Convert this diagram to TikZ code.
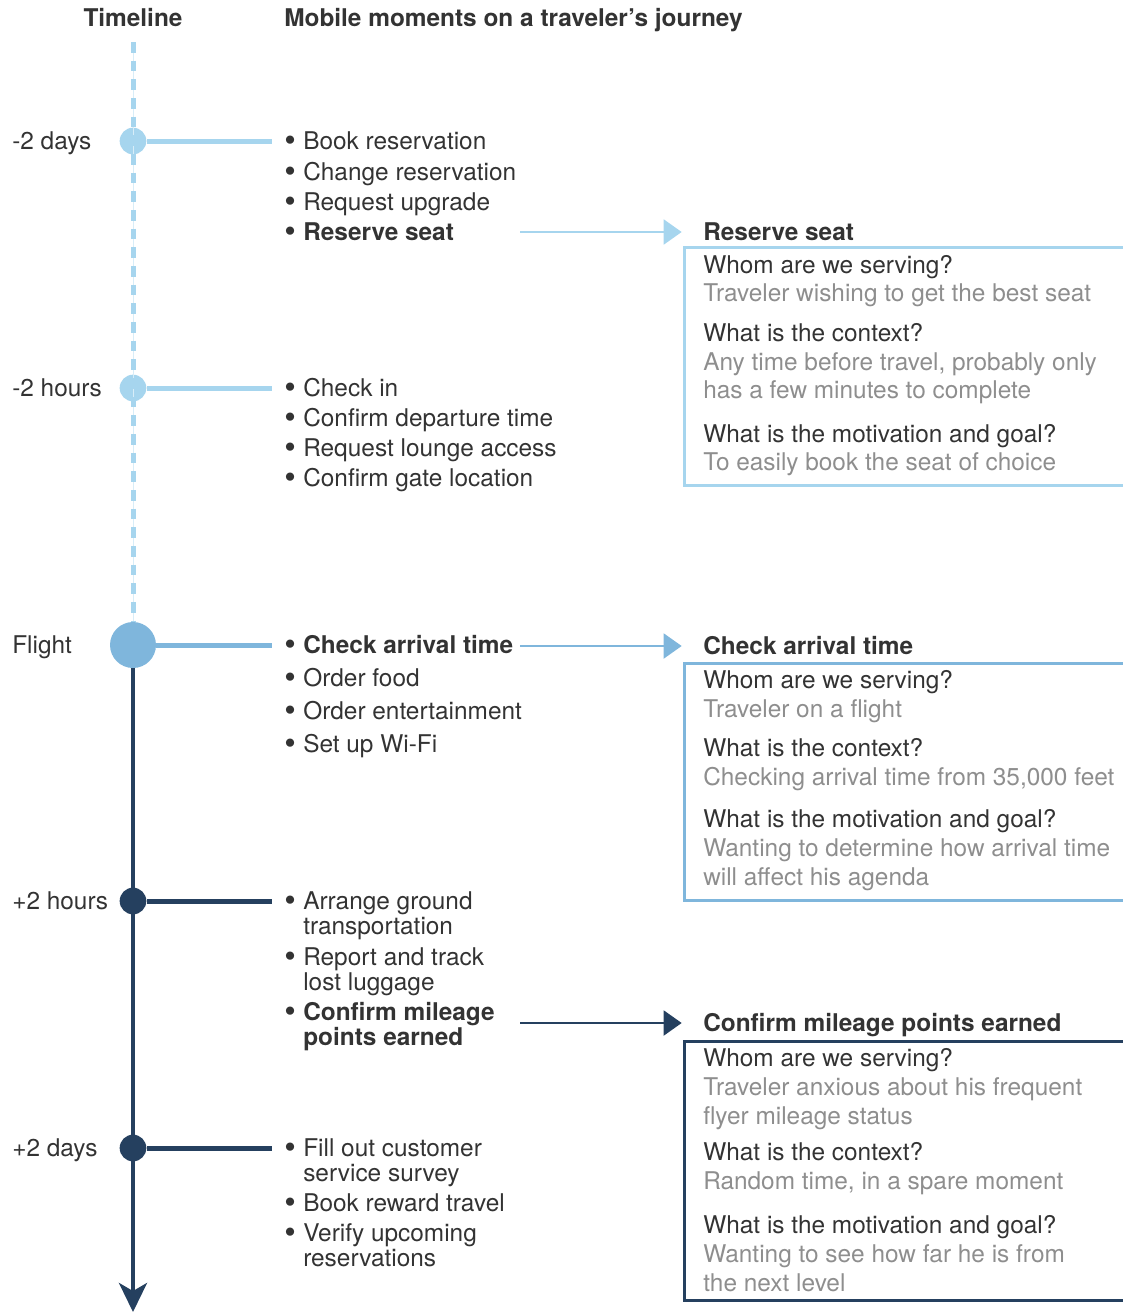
\documentclass[tikz,border=0pt]{standalone}
\usepackage{fontspec}
\setmainfont{TeX Gyre Heros}
\usetikzlibrary{arrows.meta}
\definecolor{skyline}{HTML}{A6D5EE}
\definecolor{skythin}{HTML}{D8EDF8}
\definecolor{flightblue}{HTML}{7FB6DC}
\definecolor{navyline}{HTML}{25405F}
\definecolor{inktext}{HTML}{333333}
\definecolor{softtext}{HTML}{8E8E8E}
\newcommand{\bodyfont}{\fontsize{18.3}{21}\selectfont}
\newcommand{\itembul}{\llap{\raisebox{-2.2pt}{\scalebox{1.35}{\textbullet}}\hspace{5.5pt}}}

\begin{document}
\begin{tikzpicture}
[x=0.75pt,y=-0.75pt,
  txt/.style={anchor=base west,inner sep=0pt,text=inktext,font=\bodyfont},%
  soft/.style={txt,text=softtext},%
  head/.style={txt,font=\bodyfont\bfseries},%
  dot/.style={shape=circle,inner sep=0pt,minimum size=20pt},%
  bigdot/.style={shape=circle,inner sep=0pt,minimum size=34.5pt,fill=flightblue},%
  spoke/.style={-,line width=3.75pt},%
  pointer/.style={-{Triangle[length=13.5pt,width=18.75pt]},line width=1.5pt,shorten >=16pt},%
  frame/.style={line width=2.25pt}]
\useasboundingbox (0,0) rectangle (1122,1314);

%% headings
\node[head,anchor=base] (timeline) at (133,26) {Timeline};
\node[head] (moments) at (284,26) {Mobile moments on a traveler’s journey};

%% timeline dots and labels
\foreach \nodename/\y/\lbl/\col in {daysbefore/141/-2 days/skyline, hoursbefore/388/-2 hours/skyline,
    hoursafter/901/+2 hours/navyline, daysafter/1148/+2 days/navyline} {
  \node (\nodename) at (133,\y) [dot,fill=\col] {};
  \node[txt] (\nodename-lbl) at (12,\y+8) {\lbl};
  \coordinate (\nodename-end) at (272,\y);
}
\node (flight) at (133,645) [bigdot] {};
\node[txt] (flight-lbl) at (12,653) {Flight};
\coordinate (flight-end) at (272,645);
\coordinate (top) at (133,42);
\coordinate (bottom) at (133,1312);

%% timeline axis
\draw[skythin,line width=0.75pt] (top) -- (flight.north);
\draw[skyline,line width=3.75pt,dash pattern=on 8pt off 6pt] (top) -- (flight.north);
\draw[navyline,line width=3pt,-{Stealth[length=21.75pt,width=21pt,inset=6pt]}] (flight.south) -- (bottom);

%% spokes
\path
\foreach \startnode/\col in {daysbefore/skyline, hoursbefore/skyline, flight/flightblue,
    hoursafter/navyline, daysafter/navyline} {
  (\startnode) edge[spoke,draw=\col] (\startnode-end)
};

%% moments
\foreach \nodename/\y/\txt in {
    book/149/{\itembul Book reservation}, change/180/{\itembul Change reservation},
    upgrade/210/{\itembul Request upgrade}, seat/240/{\itembul\bfseries Reserve seat},
    checkin/396/{\itembul Check in}, departure/426/{\itembul Confirm departure time},
    lounge/456/{\itembul Request lounge access}, gate/486/{\itembul Confirm gate location},
    arrival/653/{\itembul\bfseries Check arrival time}, food/686/{\itembul Order food},
    media/719/{\itembul Order entertainment}, wifi/752/{\itembul Set up Wi-Fi},
    ground/909/{\itembul Arrange ground}, ground2/934/transportation,
    luggage/965/{\itembul Report and track}, luggage2/990/lost luggage,
    mileage/1020/{\itembul\bfseries Confirm mileage}, mileage2/1045/{\bfseries points earned},
    survey/1156/{\itembul Fill out customer}, survey2/1181/service survey,
    reward/1211/{\itembul Book reward travel},
    verify/1241/{\itembul Verify upcoming}, verify2/1266/reservations} {
  \node[txt] (\nodename) at (303,\y) {\txt};
}

%% detail boxes
\draw[skyline,frame] (1124,247) -| (684,485) -- (1124,485);
\draw[flightblue,frame] (1124,663) -| (684,900) -- (1124,900);
\draw[navyline,frame] (1124,1041) -| (684,1300) -- (1124,1300);

\node[head] (seattitle) at (703,240) {Reserve seat};
\node[head] (arrivaltitle) at (703,654) {Check arrival time};
\node[head] (mileagetitle) at (703,1031) {Confirm mileage points earned};

\foreach \nodename/\y/\txt in {
    seatq1/273/Whom are we serving?, seatq2/341/What is the context?, seatq3/442/What is the motivation and goal?,
    arrq1/688/Whom are we serving?, arrq2/756/What is the context?, arrq3/827/What is the motivation and goal?,
    milq1/1066/Whom are we serving?, milq2/1160/What is the context?, milq3/1233/What is the motivation and goal?} {
  \node[txt] (\nodename) at (703,\y) {\txt};
}
\foreach \nodename/\y/\txt in {
    seata1/301/Traveler wishing to get the best seat,
    seata2/370/{Any time before travel, probably only}, seata2b/398/has a few minutes to complete,
    seata3/470/To easily book the seat of choice,
    arra1/717/Traveler on a flight, arra2/785/{Checking arrival time from 35,000 feet},
    arra3/856/Wanting to determine how arrival time, arra3b/885/will affect his agenda,
    mila1/1095/Traveler anxious about his frequent, mila1b/1124/flyer mileage status,
    mila2/1189/{Random time, in a spare moment},
    mila3/1262/Wanting to see how far he is from, mila3b/1291/the next level} {
  \node[soft] (\nodename) at (703,\y) {\txt};
}

%% pointers to the boxes
\coordinate (seatout) at (520,232);
\coordinate (arrivalout) at (520,646);
\coordinate (mileageout) at (520,1023);
\draw[pointer,skyline] (seatout) -- (seattitle.west |- seatout);
\draw[pointer,flightblue] (arrivalout) -- (arrivaltitle.west |- arrivalout);
\draw[pointer,navyline] (mileageout) -- (mileagetitle.west |- mileageout);
\end{tikzpicture}
\end{document}
